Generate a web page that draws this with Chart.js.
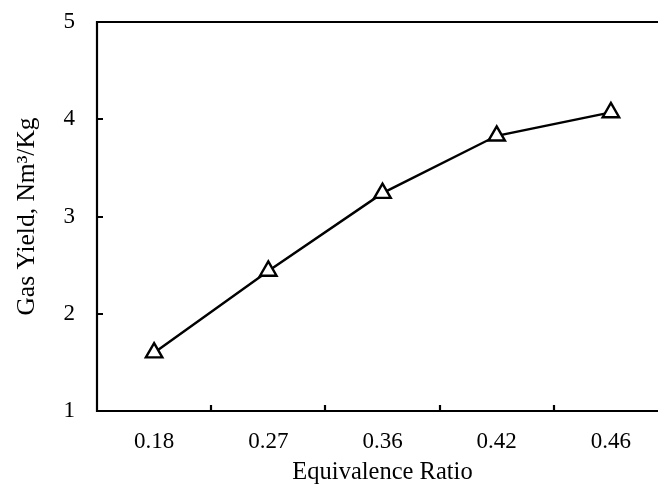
<!DOCTYPE html>
<html>
<head>
<meta charset="utf-8">
<script src="https://cdn.jsdelivr.net/npm/chart.js@4.4.0/dist/chart.umd.min.js"></script>
<style>
  html, body { margin: 0; padding: 0; background: #fff; overflow: hidden; }
  #wrap { position: relative; width: 680px; height: 489px; }
</style>
</head>
<body>
<div id="wrap"><canvas id="c"></canvas></div>
<script>
const categories = ['0.18', '0.27', '0.36', '0.42', '0.46'];
const gasYield = [1.6, 2.44, 3.24, 3.83, 4.07];
const yTicks = [1, 2, 3, 4, 5];

const FONT = "'Liberation Serif', 'Times New Roman', serif";

const frameAndTicks = {
  id: 'frameAndTicks',
  afterDraw(chart) {
    const ctx = chart.ctx;
    const a = chart.chartArea;
    const xs = chart.scales.x, ys = chart.scales.y;
    ctx.save();
    ctx.strokeStyle = '#000';
    ctx.lineWidth = 2.2;
    ctx.lineCap = 'butt';
    ctx.beginPath();
    ctx.rect(a.left, a.top, a.right - a.left, a.bottom - a.top);
    ctx.stroke();
    ctx.beginPath();
    yTicks.forEach(v => {
      const py = Math.round(ys.getPixelForValue(v));
      ctx.moveTo(a.left, py);
      ctx.lineTo(a.left + 6, py);
    });
    for (let i = 0; i < categories.length - 1; i++) {
      const px = Math.round((xs.getPixelForValue(i) + xs.getPixelForValue(i + 1)) / 2);
      ctx.moveTo(px, a.bottom);
      ctx.lineTo(px, a.bottom - 6);
    }
    ctx.stroke();
    ctx.restore();
  }
};

new Chart(document.getElementById('c'), {
  type: 'line',
  data: {
    labels: categories,
    datasets: [{
      data: gasYield,
      borderColor: '#000',
      borderWidth: 2.4,
      pointStyle: 'triangle',
      pointRadius: 9.5,
      pointBorderWidth: 2.4,
      pointBorderColor: '#000',
      pointBackgroundColor: '#fff',
      tension: 0,
      clip: false
    }]
  },
  options: {
    responsive: true,
    maintainAspectRatio: false,
    animation: false,
    layout: { padding: { top: 22, right: 12, left: 0, bottom: 0 } },
    plugins: { legend: { display: false }, tooltip: { enabled: false } },
    scales: {
      x: {
        type: 'category',
        offset: true,
        grid: { display: false, drawTicks: false },
        border: { display: false },
        ticks: { color: '#000', font: { family: FONT, size: 23 }, padding: 17, maxRotation: 0 },
        title: { display: true, text: 'Equivalence Ratio', color: '#000', font: { family: FONT, size: 24.5 }, padding: { top: 0, bottom: 2 } },
        afterFit(s) { s.height = 78; s.paddingLeft = 0; s.paddingRight = 0; }
      },
      y: {
        min: 1, max: 5,
        afterBuildTicks(s) { s.ticks = yTicks.map(v => ({ value: v })); },
        grid: { display: false, drawTicks: false },
        border: { display: false },
        ticks: { color: '#000', font: { family: FONT, size: 23 }, padding: 22 },
        title: { display: true, text: 'Gas Yield, Nm³/Kg', color: '#000', font: { family: FONT, size: 25.5 }, padding: { top: 12, bottom: 4 } },
        afterFit(s) { s.width = 97; s.paddingTop = 0; s.paddingBottom = 0; }
      }
    }
  },
  plugins: [frameAndTicks]
});
</script>
</body>
</html>
